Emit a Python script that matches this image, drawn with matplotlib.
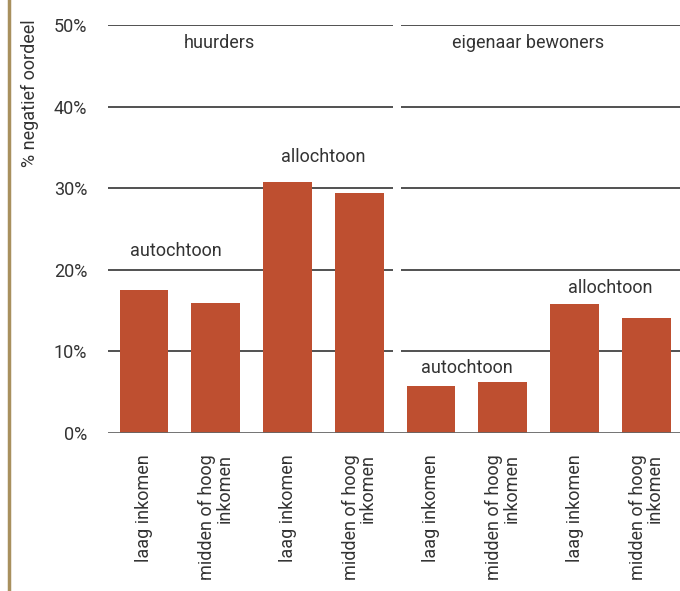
import matplotlib.pyplot as plt
import numpy as np

# % negatief oordeel per groep
labels = ['laag inkomen', 'midden of hoog\ninkomen'] * 4
values = [17.5, 15.9, 30.8, 29.4, 5.8, 6.3, 15.8, 14.1]
group_titles = ['huurders', 'eigenaar bewoners']
origin_labels = ['autochtoon', 'allochtoon', 'autochtoon', 'allochtoon']
yticks = [0, 10, 20, 30, 40, 50]

plt.rcParams['font.family'] = ['Roboto', 'DejaVu Sans']
txt = '#333333'
fs = 13

fig = plt.figure(figsize=(6.8, 5.91), dpi=100)
ax = fig.add_axes([0.159, 0.2673, 0.841, 0.6904])

x = np.arange(len(values))
ax.set_xlim(-0.5, 7.47)
ax.set_ylim(0, 50)

# gridlines, broken between the two groups
for y in yticks[1:]:
    ax.hlines(y, -0.5, 3.47, color='#222222', lw=1.1, zorder=1)
    ax.hlines(y, 3.58, 7.5, color='#222222', lw=1.1, zorder=1)

ax.bar(x, values, width=0.68, color='#BE4F30', zorder=2)
ax.axhline(0, color='#666666', lw=2, zorder=3)

for s in ax.spines.values():
    s.set_visible(False)
ax.tick_params(axis='both', length=0, colors=txt)
ax.set_yticks(yticks)
ax.set_yticklabels([f'{v}%' for v in yticks], fontsize=fs)
ax.tick_params(axis='y', pad=15)
ax.set_xticks(x)
ax.set_xticklabels(labels, rotation=90, fontsize=fs, ha='center', va='top',
                   multialignment='right', linespacing=0.95)
ax.tick_params(axis='x', pad=15)

# group titles and origin labels
ax.text(1.05, 47.8, group_titles[0], ha='center', va='center', fontsize=fs, color=txt)
ax.text(5.35, 47.8, group_titles[1], ha='center', va='center', fontsize=fs, color=txt)
ax.text(0.45, 22.3, origin_labels[0], ha='center', va='center', fontsize=fs, color=txt)
ax.text(2.5, 33.8, origin_labels[1], ha='center', va='center', fontsize=fs, color=txt)
ax.text(4.5, 8.0, origin_labels[2], ha='center', va='center', fontsize=fs, color=txt)
ax.text(6.5, 17.8, origin_labels[3], ha='center', va='center', fontsize=fs, color=txt)

fig.text(0.044, 0.967, '% negatief oordeel', rotation=90, ha='center', va='top',
         fontsize=fs, color=txt)

# tan rule along the left edge
fig.add_artist(plt.Line2D([0.0125, 0.0125], [0, 1], color='#A8905E', lw=2.5,
                          transform=fig.transFigure))

fig.savefig('out.png', dpi=100)
